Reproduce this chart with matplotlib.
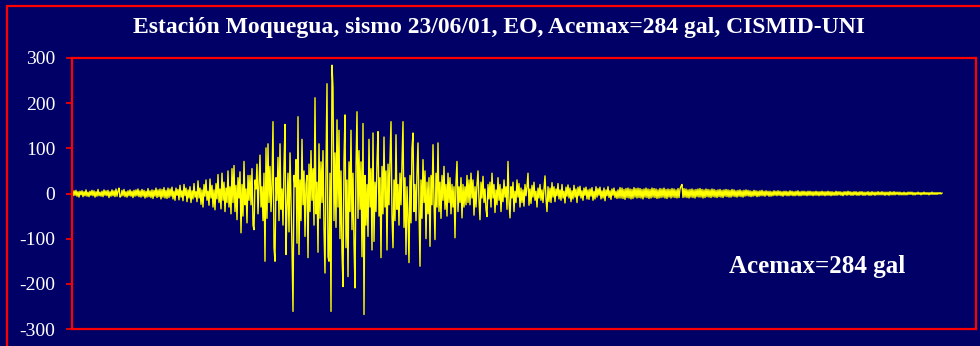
import numpy as np
import matplotlib.pyplot as plt
from matplotlib.patches import Rectangle

# EO acceleration record (gal), one value every dt seconds
pre_event = [3, -5, 6, -4, 7, -6, 4, -8, 5, -3,
             6, -7, 4, -5, 8, -6, 3, -7, 5, -4,
             7, -5, 6, -8, 4, -6, 9, -5, 3, -6,
             5, -7, 8, -4, 6, -5, 7, -9, 4, -6,
             8, -5, 6, -7, 10, -6, 5, 12, -8, -6,
             7, -5, 9, -7, 4, -8, 6, -5, 8, -6,
             5, -9, 7, -6, 8, -5, 10, -7, 6, -8,
             9, -6, 7, -10, 5, -8, 11, -7, 6, -9,
             8, -11, 7, -6, 12, -9, 8, -7, 10, -12,
             9, -8, 13, -10, 7, -11, 12, -9]
build_up = [10, -6, 14, -12, 5, -15, 12, -4, 9, -14,
            18, -8, 6, -16, 20, -5, 12, -18, 8, -10,
            15, -20, 6, -12, 22, -8, 4, -18, 28, -10,
            12, -24, 8, -30, 20, -6, 30, -15, 5, -26,
            32, -10, 18, -30, 8, -36, 22, -12, 42, -20,
            10, -34, 45, -15, 25, -40, 12, -20, 50, -30,
            15, -45, 55, -20, 62, -40, 18, -58, 35, -10,
            48, -87, 20, -50, 71, -25, 10, -65, 40, -15]
strong_motion = [40, -25, 55, -70, -80, 30, 10, 65, -45, 20,
                 85, -30, 15, -60, 45, -150, 101, -55, 110, -20,
                 60, -40, 20, 159, -120, -150, 35, -15, 80, -60,
                 110, -35, 10, -70, 60, 153, -135, -30, 45, -85,
                 90, -20, -120, -261, 40, 15, 75, -110, 170, -135,
                 30, -60, 120, -25, 50, -95, 20, 40, -142, 65,
                 -40, 95, -15, 55, -70, 212, -45, 25, -130, 110,
                 -55, 70, -20, 95, -80, -176, 60, 243, -140, -150,
                 45, -261, 284, 234, -60, 90, -75, 163, -30, 140,
                 -100, 50, -130, -206, 75, 174, -120, 30, -184, 70,
                 -40, 140, -80, 45, -110, -209, 60, 181, -55, 95,
                 -35, 70, -140, 155, -268, 40, -70, 20, -95, 120,
                 -30, 55, -125, 134, -106, 25, -40, 70, 137, -50,
                 35, -142, 60, -45, 125, -30, 50, -125, 65, -25,
                 75, 159, -50, -120, 30, -60, 130, -35, 20, -70,
                 45, -25, 70, 159, -75, 35, -135, 15, -50, -153,
                 40, -65, 100, 134, -40, 20, -60, 45, 112, -35,
                 -161, 30, -55, 75, -20, 50, -100, 25, -45, 35,
                 -117, 40, -25, 108, -20, -102, 45, -30, 112, -40,
                 25, -55, 40, -15, 60, -35, 20, -50, 45, -20,
                 35, -45, 20, -30, 15, -98, 25, 71, -40, 15,
                 -20, 35, -54, 20, -30, 15, -25, 40, -20, 30]
coda = [-25, 45, -10, 30, -48, 15, -30, 20, 50, -15,
        -58, 25, -10, 38, -20, 10, -35, -51, 20, -12,
        25, -30, 45, -10, 20, -42, 8, -25, 35, -15,
        20, -40, 10, -18, 30, -8, 15, -35, 71, -20,
        -54, 15, -10, 25, -40, 5, -20, 30, -8, 22,
        -30, 12, -20, 8, -28, 20, -5, 15, 45, -26,
        10, -22, 18, -8, 25, -15, 5, -30, 12, -10,
        20, -15, 8, -20, 10, 39, -12, -40, 15, -18,
        12, -20, 24, -8, 15, -18, 10, -5, 22, -12,
        8, -15, 20, -10, 5, -21, 14, -6, 19, -10,
        12, -18, 6, -12, 18, -8, 10, -20, 14, -5,
        16, -10, 6, -15, 12, -4, 14, -12, 8, -13,
        10, -6, 13, -15, 5, -12, 15, -8, 11, -4,
        14, -12, 6, -10, 12, -16, 8, -5, 15, -9,
        6, -13, 10, -4, 12, -9, 5, -11, 8, -10]
tail = [13, -10, 12, -11, 9, -13, 11, -9, 12, -10,
        10, -12, 9, -11, 13, -8, 11, -10, 12, -9,
        11, -10, 9, -12, 10, -8, 12, -9, 10, -11,
        9, -10, 12, -8, 11, -9, 10, -11, 8, -10,
        11, -9, 10, -8, 12, -10, 9, -11, 10, -8,
        9, -10, 11, -8, 10, -9, 8, -10, 11, -9,
        10, 16, 20, -9, 11, -8, 10, -9, 8, -10,
        9, -8, 10, -9, 8, -10, 9, -7, 10, -8,
        11, -8, 9, -10, 8, -9, 10, -7, 9, -8,
        8, -9, 10, -7, 9, -8, 7, -9, 8, -7,
        9, -8, 7, -9, 8, -6, 9, -7, 8, -8,
        7, -8, 9, -6, 8, -7, 6, -8, 7, -6,
        8, -7, 6, -8, 7, -6, 8, -5, 7, -6,
        6, -7, 5, -6, 7, -5, 6, -7, 5, -6,
        6, -5, 7, -5, 5, -6, 6, -4, 5, -6,
        5, -6, 4, -5, 6, -4, 5, -5, 6, -4,
        5, -5, 4, -6, 5, -4, 5, -5, 4, -5,
        6, -4, 5, -5, 4, -5, 5, -4, 6, -5,
        4, -5, 5, -4, 5, -4, 4, -5, 5, -4,
        5, -4, 4, -5, 4, -4, 5, -4, 4, -5,
        4, -4, 5, -4, 4, -5, 4, -4, 5, -4,
        4, -5, 4, -4, 3, -4, 5, -4, 4, -3,
        4, -4, 3, -5, 4, -3, 4, -4, 5, -3,
        4, -4, 3, -4, 4, -3, 4, -4, 3, -4,
        4, -3, 4, -4, 3, -4, 3, -3, 4, -4,
        3, -4, 4, -3, 3, -4, 3, -3, 4, -3,
        3, -3, 4, -3, 3, -4, 3, -3, 3, -4,
        4, -3, 3, -3, 4, -3, 3, -2, 3, -3,
        3, -3, 2, -3, 3, -3, 2, -3, 3, -2,
        3, -2, 3, -3, 2, -3, 2, -2, 3, -2,
        2, -3, 2, -2, 3, -2, 2, -2, 2, -3,
        2, -2, 3, -2, 2, -2, 2, -2, 2, -1,
        2, -1, 1]
dt= 0.1
t_end= 90.4
y_ticks= [300, 200, 100, 0, -100, -200, -300]
title= 'Estación Moquegua, sismo 23/06/01, EO, Acemax=284 gal, CISMID-UNI'

acc= np.array(pre_event + build_up + strong_motion + coda + tail, dtype= float)
t= np.arange(len(acc)) * dt
peak= abs(acc[np.argmax(np.abs(acc))])

plt.rcParams['font.family']= ['Liberation Serif', 'DejaVu Serif']
plt.rcParams['axes.unicode_minus']= False
navy= '#000066'

fig= plt.figure(figsize= (9.8, 3.46), dpi= 100, facecolor= navy)
ax= fig.add_axes([72/980, 17/346, 904/980, 271/346], facecolor= navy)
ax.plot(t, acc, color= '#FFFF00', lw= 1.0)
ax.set_xlim(0, t_end)
ax.set_ylim(-300, 300)
ax.set_yticks(y_ticks)
ax.set_xticks([])
for sp in ax.spines.values():
    sp.set_color('red')
    sp.set_linewidth(1.6)
ax.tick_params(axis= 'y', colors= 'red', labelcolor= 'white', length= 4,
               width= 1.2, pad= 8, labelsize= 14)

fig.text(817/980, 1 - 267/346, 'Acemax={:.0f} gal'.format(peak),
         ha= 'center', va= 'center', color= 'white', fontsize= 18, fontweight= 'bold')
fig.text(499/980, 1 - 28/346, title, ha= 'center', va= 'center',
         color= 'white', fontsize= 17, fontweight= 'bold')

# outer red frame, right and bottom edges fall outside the canvas
fig.add_artist(Rectangle((7/980, -0.1), 1.2, 1.1 - 6/346, transform= fig.transFigure,
                         fill= False, ec= 'red', lw= 1.6))

fig.savefig('out.png', dpi= 100, facecolor= navy)
